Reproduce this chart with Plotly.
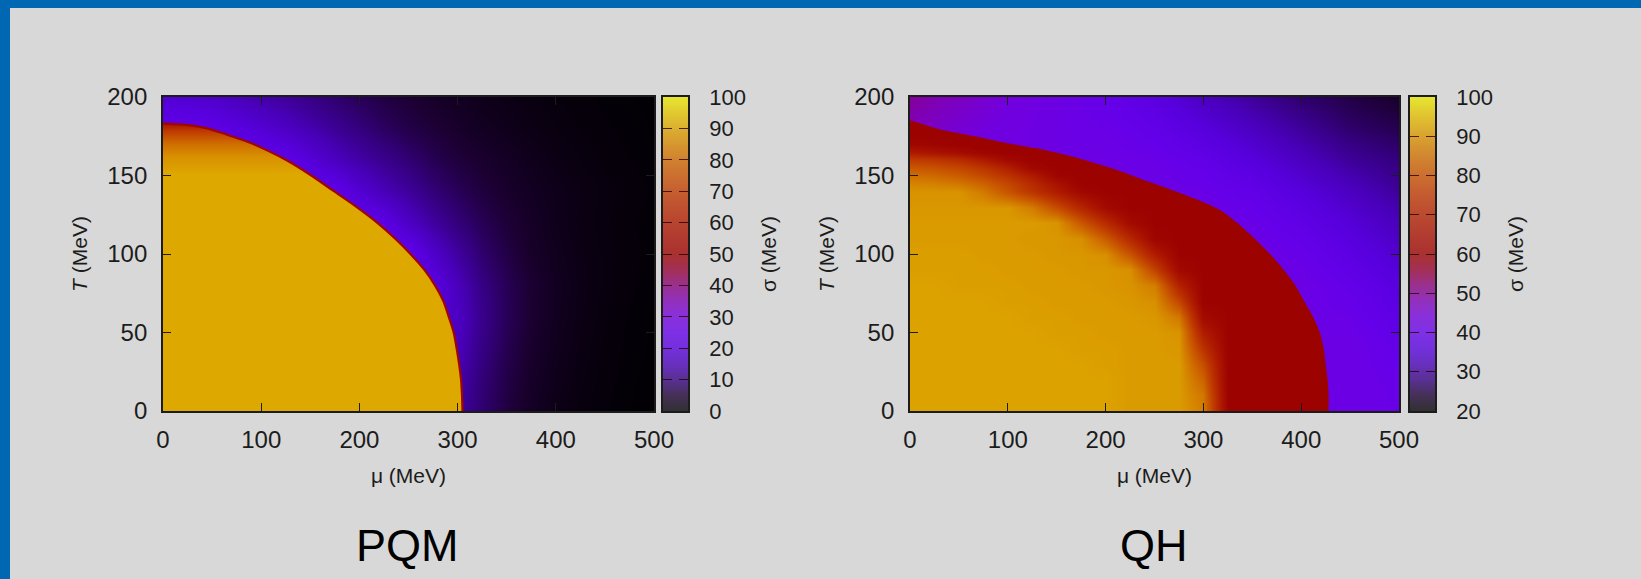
import plotly.graph_objects as go

# ---------------------------------------------------------------- page
W, H = 1641, 579
BG = "rgb(216,216,216)"
FRAME_BLUE = "rgb(0,104,178)"
INK = "rgb(28,28,28)"
FONT = "Liberation Sans, Arial, Helvetica, sans-serif"

# gnuplot-like pm3d palette (black -> blue -> red -> yellow), one stop every 5 %
PALETTE = [
    (0, 0, 0), (28, 0, 51), (52, 0, 125), (72, 0, 183), (87, 0, 221), (101, 0, 234),
    (114, 0, 221), (126, 0, 183), (137, 0, 125), (147, 0, 51), (156, 2, 0), (165, 13, 0),
    (174, 26, 0), (183, 42, 0), (191, 60, 0), (199, 81, 0), (206, 105, 0), (213, 132, 0),
    (220, 162, 0), (227, 196, 0), (234, 234, 0),
]


def rgb(c):
    return "rgb(%d,%d,%d)" % tuple(int(round(v)) for v in c)


def pal(f):
    """Palette colour at fraction f (0..1)."""
    f = min(max(f, 0.0), 1.0) * (len(PALETTE) - 1)
    i = min(int(f), len(PALETTE) - 2)
    t = f - i
    a, b = PALETTE[i], PALETTE[i + 1]
    return tuple(a[k] + (b[k] - a[k]) * t for k in range(3))


COLORSCALE = [[i / (len(PALETTE) - 1), rgb(c)] for i, c in enumerate(PALETTE)]
# the colour boxes are drawn a little paler than the maps
COLORSCALE_BOX = [[i / (len(PALETTE) - 1), rgb(tuple(0.78 * v + 0.22 * 216 for v in c))]
                  for i, c in enumerate(PALETTE)]

# ---------------------------------------------------------------- ticks
mu_range = [0, 500]
T_range = [0, 200]
mu_ticks = [0, 100, 200, 300, 400, 500]
T_ticks = [0, 50, 100, 150, 200]
sigma_range_pqm = [0, 100]
sigma_range_qh = [20, 100]
sigma_ticks_pqm = [0, 10, 20, 30, 40, 50, 60, 70, 80, 90, 100]
sigma_ticks_qh = [20, 30, 40, 50, 60, 70, 80, 90, 100]

# ---------------------------------------------------------------- PQM
# sigma (MeV) outside the broken phase, on a mu x T grid
pqm_mu = [0, 25, 50, 75, 100, 125, 150, 175, 200, 225, 250, 275, 300, 325, 350, 375, 400, 425, 450, 475, 500]
pqm_T = [0, 20, 40, 60, 80, 100, 120, 140, 160, 180, 200]
pqm_T000 = [13, 13, 13, 13, 13, 13, 13, 13, 13, 13, 13, 13, 13, 9.0, 5.8, 3.6, 2.2, 1.4, 0.9, 0.55, 0.3]
pqm_T020 = [14, 14, 14, 14, 14, 14, 14, 14, 14, 14, 14, 14, 14, 9.6, 6.3, 4.0, 2.5, 1.6, 1.0, 0.6, 0.4]
pqm_T040 = [16, 16, 16, 16, 16, 16, 16, 16, 16, 16, 16, 16, 15.5, 10.5, 6.9, 4.4, 2.8, 1.8, 1.1, 0.7, 0.45]
pqm_T060 = [19, 19, 19, 19, 19, 19, 19, 19, 19, 19, 19, 19, 16.5, 11.2, 7.4, 4.8, 3.1, 2.0, 1.25, 0.8, 0.5]
pqm_T080 = [21, 21, 21, 21, 21, 21, 21, 21, 21, 21, 21, 21, 15.5, 10.6, 7.2, 4.9, 3.2, 2.1, 1.4, 0.9, 0.6]
pqm_T100 = [24, 24, 24, 24, 24, 24, 24, 24, 24, 24, 23.5, 17.6, 12.9, 8.9, 6.2, 4.1, 2.9, 2.0, 1.4, 1.0, 0.65]
pqm_T120 = [24, 24, 24, 24, 24, 24, 24, 24, 24, 21.6, 16.7, 13.0, 9.8, 7.3, 5.3, 3.8, 2.6, 1.8, 1.3, 0.9, 0.6]
pqm_T140 = [24, 24, 24, 24, 24, 24, 24, 22.8, 18.6, 15.1, 12.4, 9.6, 7.5, 5.7, 4.3, 3.3, 2.5, 1.9, 1.4, 1.05, 0.8]
pqm_T160 = [24, 24, 24, 24, 24, 23, 19.3, 16.2, 13.6, 11.4, 9.3, 7.2, 5.6, 4.5, 3.6, 2.7, 2.0, 1.5, 1.1, 0.85, 0.6]
pqm_T180 = [24, 24, 22.7, 20.6, 18.7, 16.5, 14.4, 12.0, 10.0, 8.0, 6.4, 5.3, 4.2, 3.3, 2.6, 2.0, 1.5, 1.2, 0.9, 0.7, 0.5]
pqm_T200 = [18.5, 17.8, 17.2, 15.5, 13.8, 12.4, 10.5, 8.9, 7.4, 6.0, 5.0, 4.0, 3.2, 2.5, 2.0, 1.55, 1.2, 0.93, 0.72, 0.55, 0.42]
pqm_sigma = [pqm_T000, pqm_T020, pqm_T040, pqm_T060, pqm_T080, pqm_T100,
             pqm_T120, pqm_T140, pqm_T160, pqm_T180, pqm_T200]

# edge of the chirally broken region (mu_c, T_c)
pqm_edge_T = [0, 10, 20, 30, 40, 50, 60, 70, 80, 90, 100, 110, 120, 130, 140, 150, 160,
              170, 172.5, 175, 177.5, 180, 181.5, 182.5, 183]
pqm_edge_mu = [305, 304.5, 303.5, 301.5, 299, 296, 291, 285.5, 277, 266, 252, 236, 218, 197, 174, 151, 125,
               92, 82, 70, 58, 45, 33, 18, 0]

# sigma inside the broken region, from the bottom edge to the top of the dome
pqm_core_T = [0, 150, 162, 170, 178, 183]
pqm_core_sigma = [91, 91, 87, 81, 70, 58]

# ---------------------------------------------------------------- QH
# sigma in the restored phase, coarse grid
qh_out_mu = [0, 50, 100, 150, 200, 250, 300, 350, 400, 450, 500]
qh_out_T = [0, 20, 40, 60, 80, 100, 120, 140, 160, 180, 200]
qh_out_T000 = [42, 42, 42, 42, 42, 42, 42, 42, 42, 42, 41]
qh_out_T020 = [42, 42, 42, 42, 42, 42, 42, 42, 42, 42, 40.5]
qh_out_T040 = [42, 42, 42, 42, 42, 42, 42, 42, 42, 42, 39.5]
qh_out_T060 = [42, 42, 42, 42, 42, 42, 42, 42, 42, 41, 38]
qh_out_T080 = [42, 42, 42, 42, 42, 42, 42, 42, 42, 39.5, 36.5]
qh_out_T100 = [42, 42, 42, 42, 42, 42, 42, 42, 40.5, 37.5, 34.5]
qh_out_T120 = [43, 42, 42, 42, 42, 42, 42, 41, 38.5, 35.5, 32.5]
qh_out_T140 = [44, 43, 42, 42, 42, 42, 41, 39, 36, 33, 30]
qh_out_T160 = [46, 44, 43, 42, 42, 41, 39, 36, 33, 30, 28]
qh_out_T180 = [48, 45, 43, 42, 41, 39, 36, 33, 30, 27, 25.5]
qh_out_T200 = [50, 47, 44, 42, 40, 37, 33, 30, 27, 25, 23.5]
qh_out_sigma = [qh_out_T000, qh_out_T020, qh_out_T040, qh_out_T060, qh_out_T080, qh_out_T100,
                qh_out_T120, qh_out_T140, qh_out_T160, qh_out_T180, qh_out_T200]

# outer edge of the intermediate (quarkyonic) band
qh_edge_T = [0, 10, 20, 30, 40, 50, 60, 70, 80, 90, 100, 110, 120, 128, 135, 141, 146, 151.5,
             157, 162, 166, 170.5, 175, 179, 182, 184, 185]
qh_edge_mu = [428, 428, 427, 425, 423, 419, 412, 403, 394, 382, 368, 352, 334, 317, 292, 267, 244, 221,
              194, 167, 140, 100, 66, 33, 16, 6, 0]
qh_band_sigma = 60

# sigma inside the band (None: plain band value, drawn by the band itself)
N = None
qh_in_mu = [0, 25, 50, 75, 100, 125, 150, 175, 200, 225, 250, 275, 300, 325, 350, 375, 400, 425]
qh_in_T = [0, 10, 20, 30, 40, 50, 60, 70, 80, 90, 100, 110, 120, 130, 140, 145, 150, 155, 160, 165, 170, 175]
qh_in_T000 = [92, 92, 92, 92, 92, 92, 92, 92, 92, 91, 91, 91, 87, 60, 60, 60, 60, N]
qh_in_T010 = [92, 92, 92, 92, 92, 92, 92, 92, 92, 91, 91, 91, 86, 60, 60, 60, 60, N]
qh_in_T020 = [92, 92, 92, 92, 92, 92, 92, 92, 92, 91, 91, 91, 83, 60, 60, 60, 60, N]
qh_in_T030 = [92, 92, 92, 92, 92, 92, 92, 92, 91.5, 91, 91, 91, 79.5, 60, 60, 60, 60, N]
qh_in_T040 = [92, 92, 92, 92, 92, 92, 92, 91.5, 91.5, 91, 91, 90.5, 74, 60, 60, 60, 60, N]
qh_in_T050 = [92, 92, 92, 92, 92, 92, 91.5, 91.5, 91, 91, 91, 90, 68.5, 60, 60, 60, N, N]
qh_in_T060 = [92, 92, 92, 92, 92, 91.5, 91.5, 91, 91, 91, 90.5, 86, 63, 60, 60, 60, N, N]
qh_in_T070 = [92, 92, 92, 92, 91.5, 91.5, 91, 91, 91, 90.5, 89.5, 78, 60, 60, 60, 60, N, N]
qh_in_T080 = [92, 92, 91.5, 91.5, 91.5, 91, 91, 91, 90.5, 90, 87, 70, 60, 60, 60, N, N, N]
qh_in_T090 = [91.5, 91.5, 91.5, 91.5, 91, 91, 91, 90.5, 90.5, 89.5, 77, 62.5, 60, 60, 60, N, N, N]
qh_in_T100 = [91.5, 91.5, 91.5, 91, 91, 91, 90.5, 90.5, 89.5, 80.5, 68.5, 60, 60, 60, N, N, N, N]
qh_in_T110 = [91, 91, 91, 91, 91, 90.5, 90.5, 89.5, 81.7, 71.4, 61, 60, 60, 60, N, N, N, N]
qh_in_T120 = [91, 91, 91, 91, 91, 91, 90, 81, 72, 63, 60, 60, 60, N, N, N, N, N]
qh_in_T130 = [90.5, 90.5, 90.5, 90.5, 90.5, 86.8, 79, 71, 63, 60, 60, 60, N, N, N, N, N, N]
qh_in_T140 = [90, 90, 90, 86.4, 80.3, 74.3, 68.2, 62, 60, 60, N, N, N, N, N, N, N, N]
qh_in_T145 = [88, 87.5, 86, 83, 78, 72, 65.5, 60, 60, N, N, N, N, N, N, N, N, N]
qh_in_T150 = [85, 84, 82, 78.5, 74, 68, 61, 60, 60, N, N, N, N, N, N, N, N, N]
qh_in_T155 = [81, 80, 78, 74.5, 69, 62, 60, 60, N, N, N, N, N, N, N, N, N, N]
qh_in_T160 = [76, 75, 72.5, 68, 62.5, 60, N, N, N, N, N, N, N, N, N, N, N, N]
qh_in_T165 = [68, 66, 64, 61, 60, N, N, N, N, N, N, N, N, N, N, N, N, N]
qh_in_T170 = [62, 61, 60, N, N, N, N, N, N, N, N, N, N, N, N, N, N, N]
qh_in_T175 = [60, 60, N, N, N, N, N, N, N, N, N, N, N, N, N, N, N, N]
qh_in_sigma = [qh_in_T000, qh_in_T010, qh_in_T020, qh_in_T030, qh_in_T040, qh_in_T050, qh_in_T060,
               qh_in_T070, qh_in_T080, qh_in_T090, qh_in_T100, qh_in_T110, qh_in_T120, qh_in_T130,
               qh_in_T140, qh_in_T145, qh_in_T150, qh_in_T155, qh_in_T160, qh_in_T165, qh_in_T170,
               qh_in_T175]

# ---------------------------------------------------------------- layout boxes (pixels)
PLOT_TOP, PLOT_BOTTOM = 97, 411
PQM_MAP, PQM_BOX = (163, 654), (663, 688)
QH_MAP, QH_BOX = (910, 1399), (1410, 1435)


def xdom(px):
    return [px[0] / W, px[1] / W]


YDOM = [1 - PLOT_BOTTOM / H, 1 - PLOT_TOP / H]
PAD = 10  # closing corner of the filled regions, just outside the axes


def region(edge_mu, edge_T):
    """Closed outline: the edge curve plus a corner outside the origin."""
    xs = [edge_mu[0]] + edge_mu + [mu_range[0] - PAD, mu_range[0] - PAD]
    ys = [T_range[0] - PAD] + edge_T + [edge_T[-1], T_range[0] - PAD]
    return xs, ys


fig = go.Figure()

# ---- PQM map
lo, hi = sigma_range_pqm
fig.add_trace(go.Heatmap(
    x=pqm_mu, y=pqm_T, z=pqm_sigma, zmin=lo, zmax=hi,
    colorscale=COLORSCALE, zsmooth="best", showscale=False, hoverinfo="skip",
    xaxis="x", yaxis="y"))

core_top = max(pqm_core_T)
core_scale = [[t / core_top, rgb(pal((s - lo) / (hi - lo)))]
              for t, s in zip(pqm_core_T, pqm_core_sigma)]
rx, ry = region(pqm_edge_mu, pqm_edge_T)
fig.add_trace(go.Scatter(
    x=rx, y=ry, mode="lines", fill="toself",
    fillgradient=dict(type="vertical", colorscale=core_scale, start=0, stop=core_top),
    line=dict(width=0, shape="spline", smoothing=0.8), hoverinfo="skip", showlegend=False,
    xaxis="x", yaxis="y"))
fig.add_trace(go.Scatter(
    x=pqm_edge_mu, y=pqm_edge_T, mode="lines",
    line=dict(color=rgb(pal(0.52)), width=2.2, shape="spline", smoothing=0.8),
    hoverinfo="skip", showlegend=False, xaxis="x", yaxis="y"))

fig.add_trace(go.Heatmap(
    x=[0], y=sigma_range_pqm, z=[[lo], [hi]], zmin=lo, zmax=hi, colorscale=COLORSCALE_BOX,
    zsmooth="best", showscale=False, hoverinfo="skip", xaxis="x2", yaxis="y2"))

# ---- QH map
lo, hi = sigma_range_qh
fig.add_trace(go.Heatmap(
    x=qh_out_mu, y=qh_out_T, z=qh_out_sigma, zmin=lo, zmax=hi,
    colorscale=COLORSCALE, zsmooth="best", showscale=False, hoverinfo="skip",
    xaxis="x3", yaxis="y3"))
rx, ry = region(qh_edge_mu, qh_edge_T)
fig.add_trace(go.Scatter(
    x=rx, y=ry, mode="lines", fill="toself",
    fillcolor=rgb(pal((qh_band_sigma - lo) / (hi - lo))),
    line=dict(width=0, shape="spline", smoothing=0.8),
    hoverinfo="skip", showlegend=False, xaxis="x3", yaxis="y3"))
# inner gradient sits on an overlaid subplot so it is painted above the band
fig.add_trace(go.Heatmap(
    x=qh_in_mu, y=qh_in_T, z=qh_in_sigma, zmin=lo, zmax=hi,
    colorscale=COLORSCALE, zsmooth="best", showscale=False, hoverinfo="skip",
    connectgaps=False, xaxis="x5", yaxis="y5"))

fig.add_trace(go.Heatmap(
    x=[0], y=sigma_range_qh, z=[[lo], [hi]], zmin=lo, zmax=hi, colorscale=COLORSCALE_BOX,
    zsmooth="best", showscale=False, hoverinfo="skip", xaxis="x4", yaxis="y4"))

# ---------------------------------------------------------------- axes
tick_font = dict(family=FONT, size=24, color=INK)
box_tick_font = dict(family=FONT, size=22, color=INK)
title_font = dict(family=FONT, size=21, color=INK)
frame = dict(showline=True, linecolor=INK, linewidth=1.8, mirror="allticks",
             showgrid=False, zeroline=False, ticks="inside", tickcolor=INK,
             tickwidth=1.4, automargin=False)

map_x = dict(frame, range=mu_range, tickvals=mu_ticks, ticklen=8, tickfont=tick_font,
             ticklabelstandoff=6,
             title=dict(text="μ (MeV)", font=title_font, standoff=17))
map_y = dict(frame, range=T_range, tickvals=T_ticks, ticklen=8, tickfont=tick_font,
             ticklabelstandoff=9,
             title=dict(text="<i>T</i> (MeV)", font=title_font, standoff=14))
box_x = dict(showline=True, linecolor=INK, linewidth=1.8, mirror=True, range=[-0.5, 0.5],
             showgrid=False, zeroline=False, ticks="", showticklabels=False, automargin=False)
box_y = dict(frame, side="right", ticklen=9, tickcolor="rgba(40,0,0,0.8)",
             tickfont=box_tick_font, ticklabelstandoff=15,
             title=dict(text="σ (MeV)", font=title_font, standoff=16))
overlay_x = dict(frame, range=mu_range, tickvals=mu_ticks, ticklen=8, showticklabels=False,
                 overlaying="x3", anchor="y5")
overlay_y = dict(frame, range=T_range, tickvals=T_ticks, ticklen=8, showticklabels=False,
                 overlaying="y3", anchor="x5")

fig.update_layout(
    width=W, height=H, autosize=False,
    margin=dict(l=0, r=0, t=0, b=0, pad=0, autoexpand=False),
    paper_bgcolor=BG, plot_bgcolor=BG, showlegend=False,
    font=dict(family=FONT, color=INK),
    xaxis=dict(map_x, domain=xdom(PQM_MAP), anchor="y"),
    yaxis=dict(map_y, domain=YDOM, anchor="x"),
    xaxis2=dict(box_x, domain=xdom(PQM_BOX), anchor="y2"),
    yaxis2=dict(box_y, domain=YDOM, anchor="x2", range=sigma_range_pqm, tickvals=sigma_ticks_pqm),
    xaxis3=dict(map_x, domain=xdom(QH_MAP), anchor="y3"),
    yaxis3=dict(map_y, domain=YDOM, anchor="x3"),
    xaxis4=dict(box_x, domain=xdom(QH_BOX), anchor="y4"),
    yaxis4=dict(box_y, domain=YDOM, anchor="x4", range=sigma_range_qh, tickvals=sigma_ticks_qh),
    xaxis5=overlay_x,
    yaxis5=overlay_y,
    shapes=[
        dict(type="rect", xref="paper", yref="paper", x0=0, x1=10 / W, y0=0, y1=1,
             fillcolor=FRAME_BLUE, line=dict(width=0), layer="above"),
        dict(type="rect", xref="paper", yref="paper", x0=0, x1=1, y0=1 - 8 / H, y1=1,
             fillcolor=FRAME_BLUE, line=dict(width=0), layer="above"),
    ],
    annotations=[
        dict(text="PQM", x=407 / W, y=1 - 545 / H, xref="paper", yref="paper",
             xanchor="center", yanchor="middle", showarrow=False,
             font=dict(family=FONT, size=45, color="black")),
        dict(text="QH", x=1154 / W, y=1 - 545 / H, xref="paper", yref="paper",
             xanchor="center", yanchor="middle", showarrow=False,
             font=dict(family=FONT, size=45, color="black")),
    ],
)

fig.write_html(
    "out.html",
    post_script="document.documentElement.style.margin='0';"
                "document.body.style.margin='0';document.body.style.padding='0';"
                "document.body.style.overflow='hidden';",
)
